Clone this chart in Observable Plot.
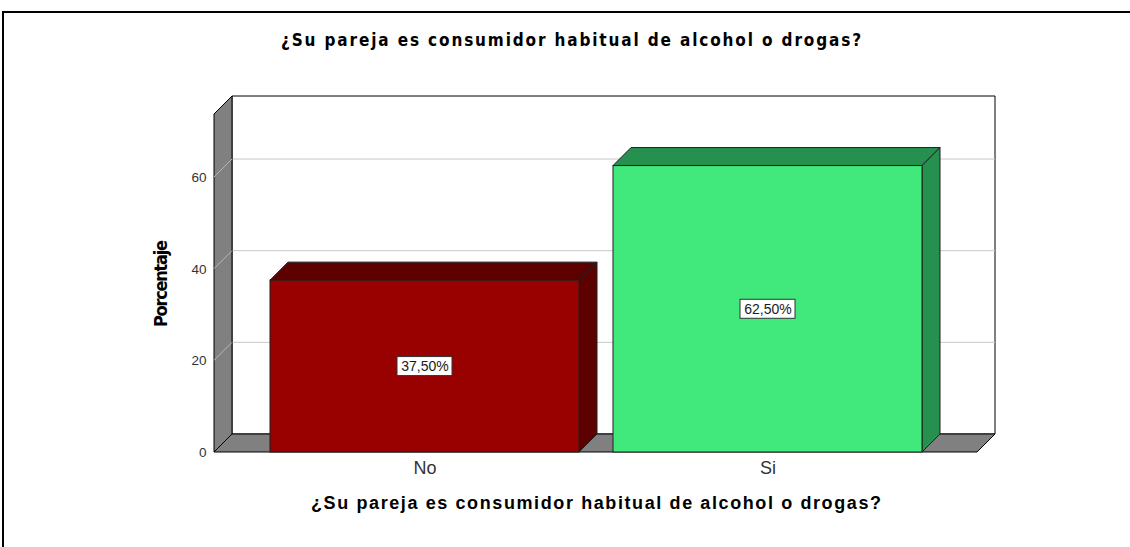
<!DOCTYPE html>
<html>
<head>
<meta charset="utf-8">
<script src="https://cdn.jsdelivr.net/npm/d3@7"></script>
<script src="https://cdn.jsdelivr.net/npm/@observablehq/plot@0.6"></script>
<style>
  body { margin: 0; background: #fff; }
  #wrap { position: relative; width: 1130px; height: 547px; overflow: hidden; background: #fff; }
  #frame { position: absolute; left: 2px; top: 11px; width: 1300px; height: 700px;
           border-left: 2px solid #000; border-top: 2px solid #000; }
  #chart { position: absolute; left: 0; top: 0; }
</style>
</head>
<body>
<div id="wrap"><div id="frame"></div><div id="chart"></div></div>
<script>
// ---- data ----
const categories = ["No", "Si"];
const percentages = [37.5, 62.5];
const valueLabels = ["37,50%", "62,50%"];
const frontColors = ["#990000", "#41e97d"];
const shadeColors = ["#5c0000", "#26904e"];
const yTicks = [0, 20, 40, 60];
const yMax = 73.75;
const chartTitle = "¿Su pareja es consumidor habitual de alcohol o drogas?";
const xTitle = "¿Su pareja es consumidor habitual de alcohol o drogas?";
const yTitle = "Porcentaje";

const data = categories.map((c, i) => ({
  category: c, value: percentages[i], label: valueLabels[i],
  front: frontColors[i], shade: shadeColors[i]
}));

const DEPTH = 18;
const NS = "http://www.w3.org/2000/svg";
function el(tag, attrs) {
  const e = document.createElementNS(NS, tag);
  for (const k in attrs) e.setAttribute(k, attrs[k]);
  return e;
}
function poly(points, fill, stroke, sw) {
  return el("polygon", {
    points: points.map(p => p.join(",")).join(" "),
    fill, stroke: stroke || "none", "stroke-width": sw || 1, "stroke-linejoin": "miter"
  });
}
function bandwidthOf(s) {
  return typeof s.bandwidth === "function" ? s.bandwidth() : s.bandwidth;
}

// back wall, left wall, floor, gridlines
function walls(index, scales, values, dim) {
  const g = el("g", {});
  const y = scales.y;
  const x0 = dim.marginLeft, x1 = dim.width - dim.marginRight;
  const yb = y(0), yt = y(yMax), d = DEPTH;
  g.append(poly([[x0 + d, yt - d], [x1 + d, yt - d], [x1 + d, yb - d], [x0 + d, yb - d]], "#ffffff", "#000", 1));
  for (const t of yTicks) {
    if (t === 0) continue;
    g.append(el("line", { x1: x0 + d, y1: y(t) - d, x2: x1 + d, y2: y(t) - d, stroke: "#c8c8c8", "stroke-width": 1 }));
  }
  g.append(poly([[x0, yt], [x0 + d, yt - d], [x0 + d, yb - d], [x0, yb]], "#808080", "#000", 1));
  for (const t of yTicks) {
    if (t === 0) continue;
    g.append(el("line", { x1: x0, y1: y(t), x2: x0 + d, y2: y(t) - d, stroke: "#b8b8b8", "stroke-width": 1 }));
  }
  g.append(poly([[x0, yb], [x0 + d, yb - d], [x1 + d, yb - d], [x1, yb]], "#808080", "#000", 1));
  return g;
}

// top and side faces of each bar
function barShades(index, scales) {
  const g = el("g", {});
  const x = scales.x, y = scales.y, bw = bandwidthOf(x), d = DEPTH;
  for (const r of data) {
    const l = x(r.category), rt = l + bw, t = y(r.value), b = y(0);
    g.append(poly([[l, t], [l + d, t - d], [rt + d, t - d], [rt, t]], r.shade, "#1f1f1f", 1));
    g.append(poly([[rt, t], [rt + d, t - d], [rt + d, b - d], [rt, b]], r.shade, "#1f1f1f", 1));
  }
  return g;
}

// white boxes behind value labels
function labelBoxes(index, scales) {
  const g = el("g", {});
  const x = scales.x, y = scales.y, bw = bandwidthOf(x);
  const w = 55, h = 19;
  for (const r of data) {
    const cx = x(r.category) + bw / 2, cy = y(r.value / 2);
    g.append(el("rect", { x: cx - w / 2, y: cy - h / 2, width: w, height: h, fill: "#fff", stroke: "#333", "stroke-width": 1 }));
  }
  return g;
}

const narrow = "'Liberation Sans Narrow', 'DejaVu Sans Condensed', 'Liberation Sans', sans-serif";

const plot = Plot.plot({
  width: 1130, height: 547,
  marginLeft: 214, marginRight: 153, marginTop: 114, marginBottom: 95,
  style: { background: "transparent", fontFamily: "'Liberation Sans', Arial, sans-serif", overflow: "visible" },
  x: { domain: categories, paddingInner: 0.1, paddingOuter: 0.16, label: null },
  y: { domain: [0, yMax], label: null },
  color: { type: "identity" },
  marks: [
    walls,
    barShades,
    Plot.barY(data, { x: "category", y: "value", fill: "front", stroke: "#1f1f1f", strokeWidth: 1 }),
    labelBoxes,
    Plot.text(data, { x: "category", y: d => d.value / 2, text: "label", fontSize: 14, fill: "#1a1a1a" }),
    Plot.axisY({ ticks: yTicks, tickSize: 0, tickPadding: 8, fontSize: 13.5, fill: "#333", label: null }),
    Plot.axisX({ tickSize: 0, tickPadding: 9, fontSize: 18, fill: "#333", label: null }),
    Plot.text([yTitle], { text: d => d, frameAnchor: "left", textAnchor: "middle", lineAnchor: "middle",
      dx: -53, rotate: -90, fontSize: 18, fontWeight: "bold", fontFamily: narrow, fill: "#000" }),
    Plot.text([xTitle], { text: d => d, frameAnchor: "bottom", textAnchor: "middle", lineAnchor: "middle",
      dy: 51, fontSize: 18, fontWeight: "bold", fill: "#000" }),
    Plot.text([chartTitle], { text: d => d, frameAnchor: "top", textAnchor: "middle", lineAnchor: "middle",
      dx: -25, dy: -74, fontSize: 17, fontWeight: "bold", fontFamily: narrow, fill: "#000" })
  ]
});
document.getElementById("chart").append(plot);

// stretch titles to the reference text lengths
const titleTexts = [];
d3.select(plot).selectAll("text").each(function () {
  const t = this.textContent;
  if (t === xTitle) titleTexts.push(this);
  if (t === yTitle) { this.setAttribute("textLength", 87); this.setAttribute("lengthAdjust", "spacing"); }
});
if (titleTexts[0]) { titleTexts[0].setAttribute("textLength", 570); titleTexts[0].setAttribute("lengthAdjust", "spacing"); }
if (titleTexts[1]) { titleTexts[1].setAttribute("textLength", 580); titleTexts[1].setAttribute("lengthAdjust", "spacing"); }
</script>
</body>
</html>
